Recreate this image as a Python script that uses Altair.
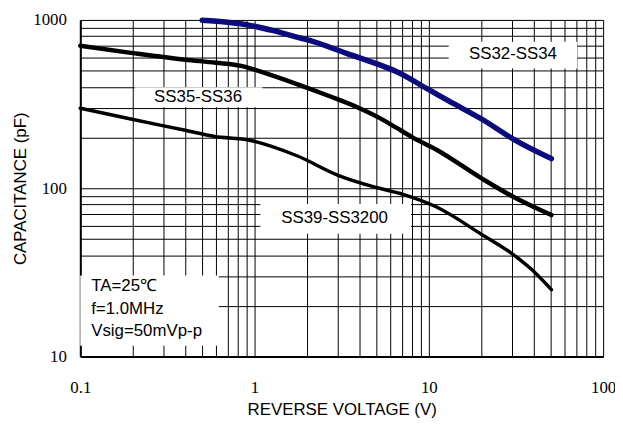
import altair as alt
import pandas as pd

# --- data ---
ss32_v = [0.5, 0.7, 0.91, 1.3, 1.75, 2.0, 3.37, 5.0, 6.5, 10, 13, 20.2, 30.5, 50.5]
ss32_c = [995, 968, 935, 860, 790, 763, 633, 550, 494, 385, 330, 257, 196, 150]

ss35_v = [0.1, 0.2, 0.4, 0.6, 0.85, 1.04, 1.75, 2.7, 4.0, 5.2, 6.5, 8.1, 11, 20.2, 30.5, 50.5]
ss35_c = [703, 635, 580, 557, 532, 500, 416, 352, 299, 262, 229, 200, 170, 114, 89, 69.3]

ss39_v = [0.1, 0.198, 0.4, 0.59, 0.91, 1.75, 3.04, 5.0, 7.1, 11, 20.2, 30.5, 38.8, 50.5]
ss39_c = [299, 257, 221, 203, 194, 156, 119, 101, 92, 77.6, 53, 40.4, 33, 25]

x_grid = [0.1, 0.2, 0.3, 0.4, 0.5, 0.6, 0.7, 0.8, 0.9,
          1, 2, 3, 4, 5, 6, 7, 8, 9,
          10, 20, 30, 40, 50, 60, 70, 80, 90, 100]
y_grid = [10, 20, 30, 40, 50, 60, 70, 80, 90,
          100, 200, 300, 400, 500, 600, 700, 800, 900, 1000]

# label boxes (data coordinates) and texts
box_x = [13.0, 0.205, 1.08, 0.1]
box_x2 = [71.0, 1.11, 7.9, 0.624]
box_y = [515, 303, 53.6, 11.6]
box_y2 = [742, 398, 80.5, 30.3]

label_text = ["SS32-SS34", "SS35-SS36", "SS39-SS3200"]
label_x = [30.4, 0.474, 2.88]
label_y = [630, 347, 66.7]

cond_text = ["TA=25℃", "f=1.0MHz", "Vsig=50mVp-p"]
cond_x = [0.1155, 0.1155, 0.1155]
cond_y = [26.2, 19.1, 14.2]

# --- tables ---
curves = pd.concat([
    pd.DataFrame({"x": ss32_v, "y": ss32_c, "s": "SS32-SS34"}),
    pd.DataFrame({"x": ss35_v, "y": ss35_c, "s": "SS35-SS36"}),
    pd.DataFrame({"x": ss39_v, "y": ss39_c, "s": "SS39-SS3200"}),
])
boxes = pd.DataFrame({"x": box_x, "x2": box_x2, "y": box_y, "y2": box_y2})
labels = pd.DataFrame({"x": label_x, "y": label_y, "t": label_text})
conds = pd.DataFrame({"x": cond_x, "y": cond_y, "t": cond_text})

xscale = alt.Scale(type="log", domain=[0.1, 100], nice=False)
yscale = alt.Scale(type="log", domain=[10, 1000], nice=False)

xaxis = alt.Axis(
    values=x_grid, format="~g",
    labelExpr="(datum.value == 0.1 || datum.value == 1 || datum.value == 10 || datum.value == 100) ? datum.label : ''",
    title="REVERSE VOLTAGE (V)", ticks=False, grid=True,
    gridColor="#000000", gridWidth=1, gridOpacity=1,
    domainColor="#000000", domainWidth=2,
    labelFont="Liberation Serif", labelFontSize=17, labelColor="#000000",
    labelPadding=23, labelFlush=False, labelOverlap=False,
    titleFont="Liberation Sans", titleFontSize=17, titleFontWeight="normal",
    titleColor="#000000", titlePadding=6,
)
yaxis = alt.Axis(
    values=y_grid, format="~g",
    labelExpr="(datum.value == 10 || datum.value == 100 || datum.value == 1000) ? datum.label : ''",
    title="CAPACITANCE (pF)", ticks=False, grid=True,
    gridColor="#000000", gridWidth=1, gridOpacity=1,
    domainColor="#000000", domainWidth=2,
    labelFont="Liberation Serif", labelFontSize=17, labelColor="#000000",
    labelPadding=14, labelFlush=False, labelOverlap=False,
    titleFont="Liberation Sans", titleFontSize=17, titleFontWeight="normal",
    titleColor="#000000", titlePadding=3,
)

X = alt.X("x:Q", scale=xscale, axis=xaxis)
Y = alt.Y("y:Q", scale=yscale, axis=yaxis)

rects = alt.Chart(boxes).mark_rect(color="white", opacity=1).encode(
    x=X, x2="x2:Q", y=Y, y2="y2:Q"
)

lines = alt.Chart(curves).mark_line(interpolate="monotone", strokeCap="round").encode(
    x=X, y=Y,
    detail="s:N",
    color=alt.Color("s:N", scale=alt.Scale(
        domain=["SS32-SS34", "SS35-SS36", "SS39-SS3200"],
        range=["#0b0b7d", "#000000", "#000000"]), legend=None),
    strokeWidth=alt.StrokeWidth("s:N", scale=alt.Scale(
        domain=["SS32-SS34", "SS35-SS36", "SS39-SS3200"],
        range=[5.5, 3.5, 3.5]), legend=None),
)

label_marks = alt.Chart(labels).mark_text(
    font="Liberation Sans", fontSize=17, color="#000000",
    align="center", baseline="middle"
).encode(x=X, y=Y, text="t:N")

cond_marks = alt.Chart(conds).mark_text(
    font="Liberation Sans", fontSize=17, color="#000000",
    align="left", baseline="middle"
).encode(x=X, y=Y, text="t:N")

chart = alt.layer(rects, lines, label_marks, cond_marks).properties(
    width=528, height=340,
    autosize=alt.AutoSizeParams(type="none"),
    padding={"left": 73, "top": 10, "right": 12, "bottom": 64},
).configure_view(stroke="#999999", strokeWidth=2).configure(background="white")

chart.save("out.html", embed_options={"renderer": "svg", "actions": False})
